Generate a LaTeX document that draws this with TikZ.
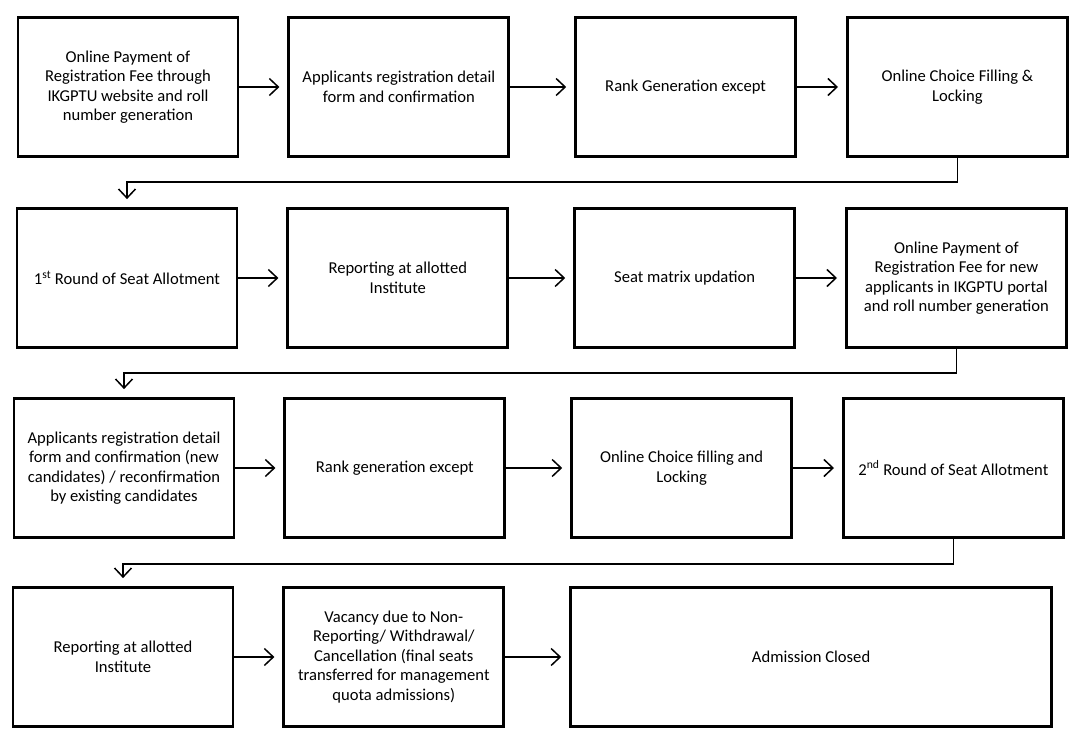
\documentclass[tikz,border=0pt]{standalone}
\usepackage{fontspec}
\setmainfont{Carlito}
\usepackage{tikz}
\usetikzlibrary{arrows.meta,positioning,calc}

\begin{document}
\begin{tikzpicture}[
  x=1pt, y=1pt,
  stage/.style={draw, line width=2.8pt, minimum width=220pt, minimum height=139pt,
                align=center, inner sep=3pt,
                font=\fontsize{16.6}{19.5}\selectfont},
  flow/.style={line width=1.5pt, -{Straight Barb[length=9pt,width=17pt,line width=1.5pt]},
               shorten >=8pt}
]
  \useasboundingbox (0,0) rectangle (1078,740);
  %% Row 1
  \node[stage] (pay)    at (128,653) {Online Payment of\\Registration Fee through\\IKGPTU website and roll\\number generation};
  \node[stage, right=48pt of pay]   (regform) {Applicants registration detail\\form and confirmation};
  \node[stage, right=64pt of regform] (rank)  {Rank Generation except};
  \node[stage, right=49pt of rank]  (choice)  {Online Choice Filling \&\\Locking};
  %% Row 2
  \node[stage] (round1) at (127,462) {1\textsuperscript{st} Round of Seat Allotment};
  \node[stage, right=48pt of round1] (report)  {Reporting at allotted\\Institute};
  \node[stage, right=64pt of report] (matrix)  {Seat matrix updation};
  \node[stage, right=49pt of matrix] (newpay)  {Online Payment of\\Registration Fee for new\\applicants in IKGPTU portal\\and roll number generation};
  %% Row 3
  \node[stage] (reconf) at (124,272) {Applicants registration detail\\form and confirmation (new\\candidates) / reconfirmation\\by existing candidates};
  \node[stage, right=48pt of reconf] (rerank)   {Rank generation except};
  \node[stage, right=64pt of rerank] (rechoice) {Online Choice filling and\\Locking};
  \node[stage, right=49pt of rechoice] (round2) {2\textsuperscript{nd} Round of Seat Allotment};
  %% Row 4
  \node[stage] (rereport) at (123,83) {Reporting at allotted\\Institute};
  \node[stage, right=48pt of rereport] (vacancy) {Vacancy due to Non-\\Reporting/ Withdrawal/\\Cancellation (final seats\\transferred for management\\quota admissions)};
  \node[stage, minimum width=481pt, right=64pt of vacancy] (closed) {Admission Closed};

  %% Arrows along each row
  \draw[flow] (pay) -- (regform);
  \draw[flow] (regform) -- (rank);
  \draw[flow] (rank) -- (choice);
  \draw[flow] (round1) -- (report);
  \draw[flow] (report) -- (matrix);
  \draw[flow] (matrix) -- (newpay);
  \draw[flow] (reconf) -- (rerank);
  \draw[flow] (rerank) -- (rechoice);
  \draw[flow] (rechoice) -- (round2);
  \draw[flow] (rereport) -- (vacancy);
  \draw[flow] (vacancy) -- (closed);

  %% Return lines to the next row
  \draw[flow] (choice.south) -- ++(0,-24) -| (round1.north);
  \draw[flow] (newpay.south) -- ++(0,-24) -| (reconf.north);
  \draw[flow] (round2.south) -- ++(0,-25) -| (rereport.north);
\end{tikzpicture}
\end{document}
